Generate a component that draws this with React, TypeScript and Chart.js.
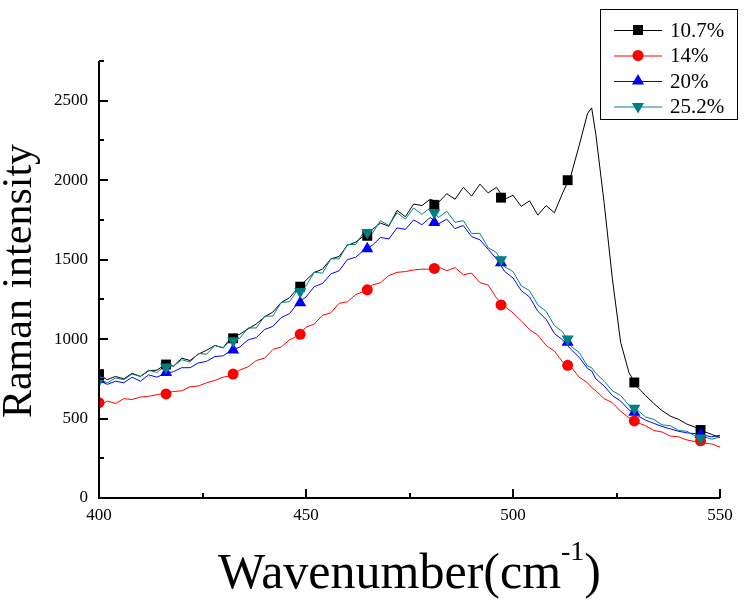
import React, { useEffect, useRef } from "react";
import { Chart, registerables } from "chart.js";
Chart.register(...registerables);

const FONT = "'Liberation Serif', 'Times New Roman', serif";

const WAVENUMBER = [
  400, 402, 404, 406, 408, 410, 412, 414, 416, 418,
  420, 422, 424, 426, 428, 430, 432, 434, 436, 438,
  440, 442, 444, 446, 448, 450, 452, 454, 456, 458,
  460, 462, 464, 466, 468, 470, 472, 474, 476, 478,
  480, 482, 484, 486, 488, 490, 492, 494, 496, 498,
  500, 502, 504, 506, 508, 510, 512, 514, 516, 518,
  519,
  520, 522, 524, 526, 528, 530, 532, 534, 536, 538, 540, 542, 544, 546, 548, 550,
];

const S_107 = [
  770, 745, 765, 750, 785, 765, 800, 805, 840, 830,
  880, 865, 905, 930, 960, 945, 1015, 1030, 1065, 1095,
  1140, 1170, 1230, 1260, 1320, 1370, 1420, 1440, 1505, 1520,
  1590, 1610, 1650, 1690, 1730, 1710, 1810, 1770, 1850, 1840,
  1880, 1860, 1915, 1880, 1955, 1900, 1975, 1920, 1955, 1880,
  1905, 1835, 1870, 1780, 1840, 1795, 1920, 2030, 2220, 2420,
  2455,
  2290, 1860, 1380, 980, 790, 700, 645, 595, 550, 515, 495, 465, 445, 420, 400, 380,
];

const S_14 = [
  580, 610, 595, 625, 620, 635, 640, 650, 660, 670,
  675, 700, 705, 725, 740, 760, 770, 805, 825, 865,
  880, 935, 950, 995, 1020, 1075, 1095, 1150, 1165, 1225,
  1235, 1280, 1300, 1340, 1355, 1400, 1420, 1425, 1435, 1440,
  1440, 1455, 1430, 1450, 1405, 1415, 1355, 1340, 1260, 1205,
  1165, 1115, 1060, 1025, 960, 925, 855, 825, 760, 725,
  695,
  675, 625, 600, 545, 505, 475, 455, 425, 415, 390, 385, 365, 355, 345, 340, 320,
];

const S_20 = [
  740, 715, 735, 725, 760, 735, 775, 760, 785, 795,
  820, 820, 850, 860, 890, 895, 930, 950, 995, 1010,
  1060, 1080, 1135, 1160, 1225, 1265, 1330, 1350, 1410, 1430,
  1500, 1515, 1560, 1590, 1640, 1630, 1700, 1690, 1750, 1720,
  1765, 1725, 1755, 1695, 1715, 1645, 1625, 1565, 1505, 1425,
  1385, 1305, 1265, 1175, 1125, 1035, 995, 935, 885, 815,
  800,
  750, 705, 645, 610, 555, 520, 490, 470, 450, 435, 420, 410, 405, 395, 385, 395,
];

const S_252 = [
  750, 725, 755, 745, 780, 765, 805, 790, 835, 830,
  870, 855, 910, 905, 960, 945, 1000, 1005, 1070, 1070,
  1145, 1145, 1230, 1235, 1310, 1335, 1420, 1415, 1505, 1505,
  1595, 1595, 1675, 1665, 1745, 1715, 1795, 1755, 1825, 1785,
  1825, 1765, 1805, 1735, 1745, 1665, 1665, 1575, 1545, 1455,
  1425, 1335, 1305, 1215, 1175, 1085, 1045, 955, 915, 830,
  820,
  785, 735, 675, 645, 585, 555, 510, 495, 460, 455, 425, 420, 390, 385, 370, 385,
];

const MARKER_X = [400, 416.2, 432.4, 448.6, 464.8, 481, 497.1, 513.2, 529.3, 545.3];
const M_107 = [780, 840, 1005, 1330, 1650, 1845, 1890, 2000, 727, 428];
const M_14 = [600, 655, 780, 1030, 1310, 1445, 1215, 835, 485, 360];
const M_20 = [745, 790, 932, 1228, 1568, 1734, 1480, 980, 540, 400];
const M_252 = [740, 825, 990, 1300, 1670, 1795, 1500, 1000, 565, 378];

const SERIES_NAMES = ["10.7%", "14%", "20%", "25.2%"];
const X_MAJOR = [400, 450, 500, 550];
const Y_MAJOR = [0, 500, 1000, 1500, 2000, 2500];

const X_TITLE = "Wavenumber(cm";
const X_TITLE_SUP = "-1";
const X_TITLE_END = ")";
const Y_TITLE = "Raman intensity";

const STYLES = [
  { color: "#000000", shape: "rect" },
  { color: "#FF0000", shape: "circle" },
  { color: "#0000FF", shape: "triangle" },
  { color: "#008080", shape: "invtriangle" },
];

function drawShape(ctx: CanvasRenderingContext2D, shape: string, x: number, y: number, color: string) {
  ctx.save();
  ctx.fillStyle = color;
  ctx.beginPath();
  if (shape === "rect") {
    ctx.rect(x - 5, y - 5, 10, 10);
  } else if (shape === "circle") {
    ctx.arc(x, y, 5.5, 0, Math.PI * 2);
  } else if (shape === "triangle") {
    const r = 7;
    ctx.moveTo(x, y - r);
    ctx.lineTo(x + r * 0.866, y + r / 2);
    ctx.lineTo(x - r * 0.866, y + r / 2);
    ctx.closePath();
  } else {
    const r = 7;
    ctx.moveTo(x, y + r);
    ctx.lineTo(x + r * 0.866, y - r / 2);
    ctx.lineTo(x - r * 0.866, y - r / 2);
    ctx.closePath();
  }
  ctx.fill();
  ctx.restore();
}

const decorPlugin = {
  id: "decor",
  afterDraw(chart: any) {
    const ctx: CanvasRenderingContext2D = chart.ctx;
    const area = chart.chartArea;
    const xs = chart.scales.x;
    const ys = chart.scales.y;
    ctx.save();
    ctx.strokeStyle = "#000";
    ctx.lineWidth = 2;
    ctx.beginPath();
    ctx.moveTo(area.left, area.top);
    ctx.lineTo(area.left, area.bottom);
    ctx.lineTo(area.right, area.bottom);
    ctx.stroke();
    xs.ticks.forEach((t: any) => {
      const px = Math.round(xs.getPixelForValue(t.value));
      const len = X_MAJOR.includes(t.value) ? 9 : 5;
      ctx.beginPath();
      ctx.moveTo(px, area.bottom);
      ctx.lineTo(px, area.bottom - len);
      ctx.stroke();
    });
    ys.ticks.forEach((t: any) => {
      const py = Math.round(ys.getPixelForValue(t.value));
      const len = Y_MAJOR.includes(t.value) ? 9 : 5;
      ctx.beginPath();
      ctx.moveTo(area.left, py);
      ctx.lineTo(area.left + len, py);
      ctx.stroke();
    });
    ctx.restore();

    // legend
    ctx.save();
    ctx.strokeStyle = "#000";
    ctx.lineWidth = 1;
    ctx.strokeRect(600.5, 9.5, 137, 110);
    const rows = [30, 55.5, 81, 106.5];
    ctx.font = "21px " + FONT;
    ctx.textBaseline = "middle";
    ctx.textAlign = "left";
    SERIES_NAMES.forEach((name, i) => {
      const st = STYLES[i];
      const y = rows[i];
      ctx.strokeStyle = st.color;
      ctx.lineWidth = 1;
      ctx.beginPath();
      ctx.moveTo(614, y + 0.5);
      ctx.lineTo(662, y + 0.5);
      ctx.stroke();
      drawShape(ctx, st.shape, 638, y, st.color);
      ctx.fillStyle = "#000";
      ctx.fillText(name, 670, y + 1);
    });
    ctx.restore();

    // x title
    ctx.save();
    ctx.fillStyle = "#000";
    ctx.textBaseline = "alphabetic";
    ctx.textAlign = "left";
    ctx.font = "50px " + FONT;
    const w1 = ctx.measureText(X_TITLE).width;
    const w3 = ctx.measureText(X_TITLE_END).width;
    ctx.font = "28px " + FONT;
    const w2 = ctx.measureText(X_TITLE_SUP).width;
    const cx = (area.left + area.right) / 2;
    const total = w1 + w2 + w3;
    const x0 = cx - total / 2;
    const base = 588;
    ctx.font = "50px " + FONT;
    ctx.fillText(X_TITLE, x0, base);
    ctx.font = "28px " + FONT;
    ctx.fillText(X_TITLE_SUP, x0 + w1, base - 28);
    ctx.font = "50px " + FONT;
    ctx.fillText(X_TITLE_END, x0 + w1 + w2, base);
    ctx.restore();

    // y title
    ctx.save();
    ctx.fillStyle = "#000";
    ctx.font = "42px " + FONT;
    ctx.textAlign = "center";
    ctx.textBaseline = "alphabetic";
    ctx.translate(31, 281);
    ctx.rotate(-Math.PI / 2);
    ctx.fillText(Y_TITLE, 0, 0);
    ctx.restore();
  },
};

export default function App() {
  const ref = useRef<HTMLCanvasElement | null>(null);
  useEffect(() => {
    if (!ref.current) return;
    const lineSets = [S_107, S_14, S_20, S_252].map((s, i) => ({
      type: "line" as const,
      label: SERIES_NAMES[i],
      data: WAVENUMBER.map((x, j) => ({ x, y: s[j] })),
      borderColor: STYLES[i].color,
      borderWidth: 1,
      pointRadius: 0,
      tension: 0,
      fill: false,
      order: 7 - i,
    }));
    const pointStyles: any = ["rect", "circle", "triangle", "triangle"];
    const radii = [7, 5.5, 7, 7];
    const markerSets = [M_107, M_14, M_20, M_252].map((s, i) => ({
      type: "line" as const,
      label: SERIES_NAMES[i] + " markers",
      data: MARKER_X.map((x, j) => ({ x, y: s[j] })),
      showLine: false,
      pointStyle: pointStyles[i],
      pointRotation: i === 3 ? 180 : 0,
      pointRadius: radii[i],
      pointBackgroundColor: STYLES[i].color,
      pointBorderColor: STYLES[i].color,
      pointBorderWidth: 0,
      order: 3 - i,
    }));
    const chart = new Chart(ref.current, {
      type: "line",
      data: { datasets: [...lineSets, ...markerSets] as any },
      options: {
        animation: false,
        responsive: true,
        maintainAspectRatio: false,
        layout: { padding: { left: 0, top: 61, right: 26, bottom: 0 } },
        plugins: { legend: { display: false }, tooltip: { enabled: false } },
        scales: {
          x: {
            type: "linear",
            min: 400,
            max: 550,
            grid: { display: false, drawTicks: false },
            border: { display: false },
            afterFit: (s: any) => { s.height = 105; },
            ticks: {
              stepSize: 25,
              autoSkip: false,
              maxRotation: 0,
              padding: 7,
              color: "#000",
              font: { family: FONT, size: 17 },
              callback: (v: any) => (X_MAJOR.includes(Number(v)) ? String(v) : ""),
            },
          },
          y: {
            type: "linear",
            min: 0,
            max: 2750,
            grid: { display: false, drawTicks: false },
            border: { display: false },
            afterFit: (s: any) => { s.width = 99; },
            ticks: {
              stepSize: 250,
              autoSkip: false,
              padding: 11,
              color: "#000",
              font: { family: FONT, size: 17 },
              callback: (v: any) => (Y_MAJOR.includes(Number(v)) ? String(v) : ""),
            },
          },
        },
      },
      plugins: [decorPlugin],
    });
    return () => chart.destroy();
  }, []);
  return (
    <div style={{ position: "absolute", left: 0, top: 0, width: 746, height: 603, background: "#fff" }}>
      <canvas ref={ref} />
    </div>
  );
}
